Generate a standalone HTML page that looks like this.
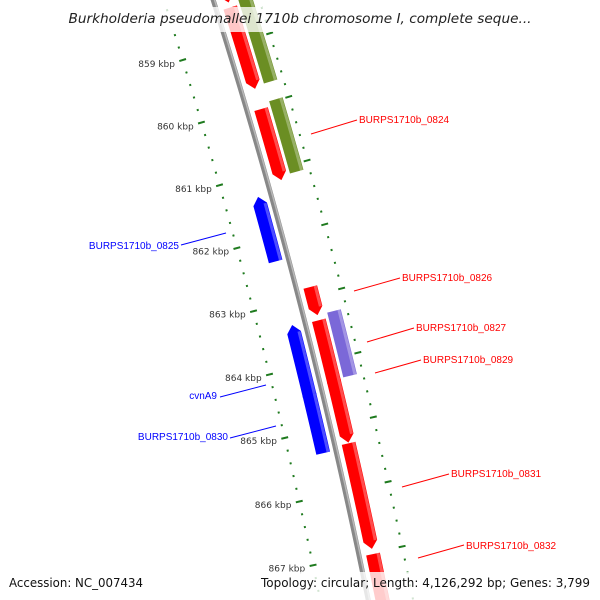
<!DOCTYPE html>
<html><head><meta charset="utf-8"><style>
html,body{margin:0;padding:0;background:#fff;width:600px;height:600px;overflow:hidden;}
svg{display:block;overflow:hidden;}
</style></head><body>
<svg id="map" width="600" height="600" viewBox="0 0 600 600" xmlns="http://www.w3.org/2000/svg" font-family="'DejaVu Sans','Liberation Sans',sans-serif">
<g id="rulers"></g>
<g id="features"></g>
<g id="labels"></g>
<rect x="0" y="7" width="600" height="25" fill="#fff" fill-opacity="0.78"/>
<text x="300" y="23" text-anchor="middle" font-size="13" font-style="italic" fill="#222" textLength="463" lengthAdjust="spacingAndGlyphs">Burkholderia pseudomallei 1710b chromosome I, complete seque...</text>
<rect x="0" y="572" width="600" height="28" fill="#fff" fill-opacity="0.8"/>
<text x="9" y="587" font-size="12.5" fill="#111" textLength="134" lengthAdjust="spacingAndGlyphs">Accession: NC_007434</text>
<text x="590" y="587" text-anchor="end" font-size="12.5" fill="#111" textLength="329" lengthAdjust="spacingAndGlyphs">Topology: circular; Length: 4,126,292 bp; Genes: 3,799</text>
</svg>
<script>
// data
const featStart = [857.96, 858.45, 860.06, 862.86, 863.38, 864.32, 865.30, 867.02, 857.96, 859.98, 863.30, 861.33, 863.35, 864.44, 867.66, 867.76];
const featEnd   = [858.37, 859.74, 861.18, 863.30, 864.36, 865.29, 866.94, 868.2, 859.70, 861.12, 864.31, 862.35, 864.47, 865.36, 868.5, 868.5];
const featStrand = [1,1,1,1,1,1,1,1,1,1,1,-1,-1,-1,-1,-1];
const featTrack = [1,1,1,1,1,1,1,1,2,2,2,-1,-1,-1,-1,-2];
const featColor = ["#ff0000","#ff0000","#ff0000","#ff0000","#ff0000","#ff0000","#ff0000","#ff0000","#6b8e23","#6b8e23","#7b68d8","#0000ff","#0000ff","#0000ff","#0000ff","#aaaaaa"];
const featArrow = [1,1,1,1,0,1,1,1,0,0,0,1,1,0,1,0];
const tickStart = 858, tickEnd = 868;
const labelTexts = ["BURPS1710b_0824","BURPS1710b_0825","BURPS1710b_0826","BURPS1710b_0827","BURPS1710b_0829","cvnA9","BURPS1710b_0830","BURPS1710b_0831","BURPS1710b_0832"];
const labelColors = ["#f00","#00f","#f00","#f00","#f00","#00f","#00f","#f00","#f00"];

// geometry
const CX=-5375, CY=1764, RB=5860;
const trackR = {"1":5874,"2":5891,"-1":5847,"-2":5831};
const TW=14;
function ang(k){return -0.2975+(k-859)*0.011225;}
function pt(r,k){const a=ang(k);return [CX+r*Math.cos(a),CY+r*Math.sin(a)];}
const NS="http://www.w3.org/2000/svg";
function mk(tag,attrs,parent){const e=document.createElementNS(NS,tag);for(const k in attrs)e.setAttribute(k,attrs[k]);parent.appendChild(e);return e;}
function arc(r,k1,k2,n){const a=[];for(let i=0;i<=n;i++){a.push(pt(r,k1+(k2-k1)*i/n));}return a;}
const rulers=document.getElementById('rulers'), feats=document.getElementById('features'), labs=document.getElementById('labels');

function pathOf(ps){return ps.map((p,i)=>(i?'L':'M')+p[0].toFixed(2)+' '+p[1].toFixed(2)).join(' ');}
const bb=mk('path',{d:pathOf(arc(RB,857.9,868.3,30)),stroke:'#888',"stroke-width":5,fill:'none'},rulers);


const bb2=mk('path',{d:pathOf(arc(RB+1.3,857.9,868.3,30)),stroke:'#b8b8b8',"stroke-width":1.5,fill:'none'},rulers);



// ticks
for(let i=0;i<=(tickEnd-tickStart)*5;i++){
  const k=tickStart+i*0.2, major=(i%5===0);
  [5813,5904].forEach(r=>{
    const hl=major?3.5:1;
    const p1=pt(r-hl,k),p2=pt(r+hl,k);
    const t=mk('line',{x1:p1[0],y1:p1[1],x2:p2[0],y2:p2[1],stroke:'#1e7a1e',"stroke-width":2},rulers);
    
    
  });
  if(major && k>858.5){
    const p=pt(5805,k);
    const tx=mk('text',{x:p[0],y:p[1]+4.5,"text-anchor":"end","font-size":9,fill:'#333'},rulers);
    tx.textContent=Math.round(k)+' kbp';
    
    
  }
}

// features
const AH=0.12;
for(let i=0;i<featStart.length;i++){
  const rc=trackR[String(featTrack[i])], ri=rc-TW/2, ro=rc+TW/2;
  let k1=featStart[i], k2=featEnd[i], ps=[];
  if(featArrow[i] && featStrand[i]>0){
    const kb=Math.max(k1,k2-AH);
    ps=arc(ro,k1,kb,6).concat([pt(rc,k2)]).concat(arc(ri,kb,k1,6));
  } else if(featArrow[i] && featStrand[i]<0){
    const kb=Math.min(k2,k1+AH);
    ps=[pt(rc,k1)].concat(arc(ro,kb,k2,6)).concat(arc(ri,k2,kb,6));
  } else {
    ps=arc(ro,k1,k2,6).concat(arc(ri,k2,k1,6));
  }
  const f=mk('path',{d:pathOf(ps)+' Z',fill:featColor[i]},feats);
  
  
  const ke=featArrow[i]&&featStrand[i]>0?k2-AH:k2, ks=featArrow[i]&&featStrand[i]<0?k1+AH:k1;
  const s=mk('path',{d:pathOf(arc(ro-2,ks,ke,6)),stroke:'#fff',"stroke-opacity":0.3,"stroke-width":3,fill:'none'},feats);
  
  
}

// labels
const lab=[[359,123,311,134,357,120,'start'],[179,249,181,245,226,233,'end'],[402,281,354,291,400,278,'start'],[416,331,367,342,414,328,'start'],[423,363,375,373,421,360,'start'],[217,399,220,397,266,385,'end'],[228,440,230,438,276,426,'end'],[451,477,402,487,449,474,'start'],[466,549,418,558,464,545,'start']];
lab.forEach((L,i)=>{
  const ln=mk('line',{x1:L[2],y1:L[3],x2:L[4],y2:L[5],stroke:labelColors[i],"stroke-width":1},labs);
  
  
  const t=mk('text',{x:L[0],y:L[1],"text-anchor":L[6],"font-size":10,fill:labelColors[i],"font-family":"'Liberation Sans',sans-serif"},labs);
  t.textContent=labelTexts[i];
  
  
});
</script>
</body></html>
